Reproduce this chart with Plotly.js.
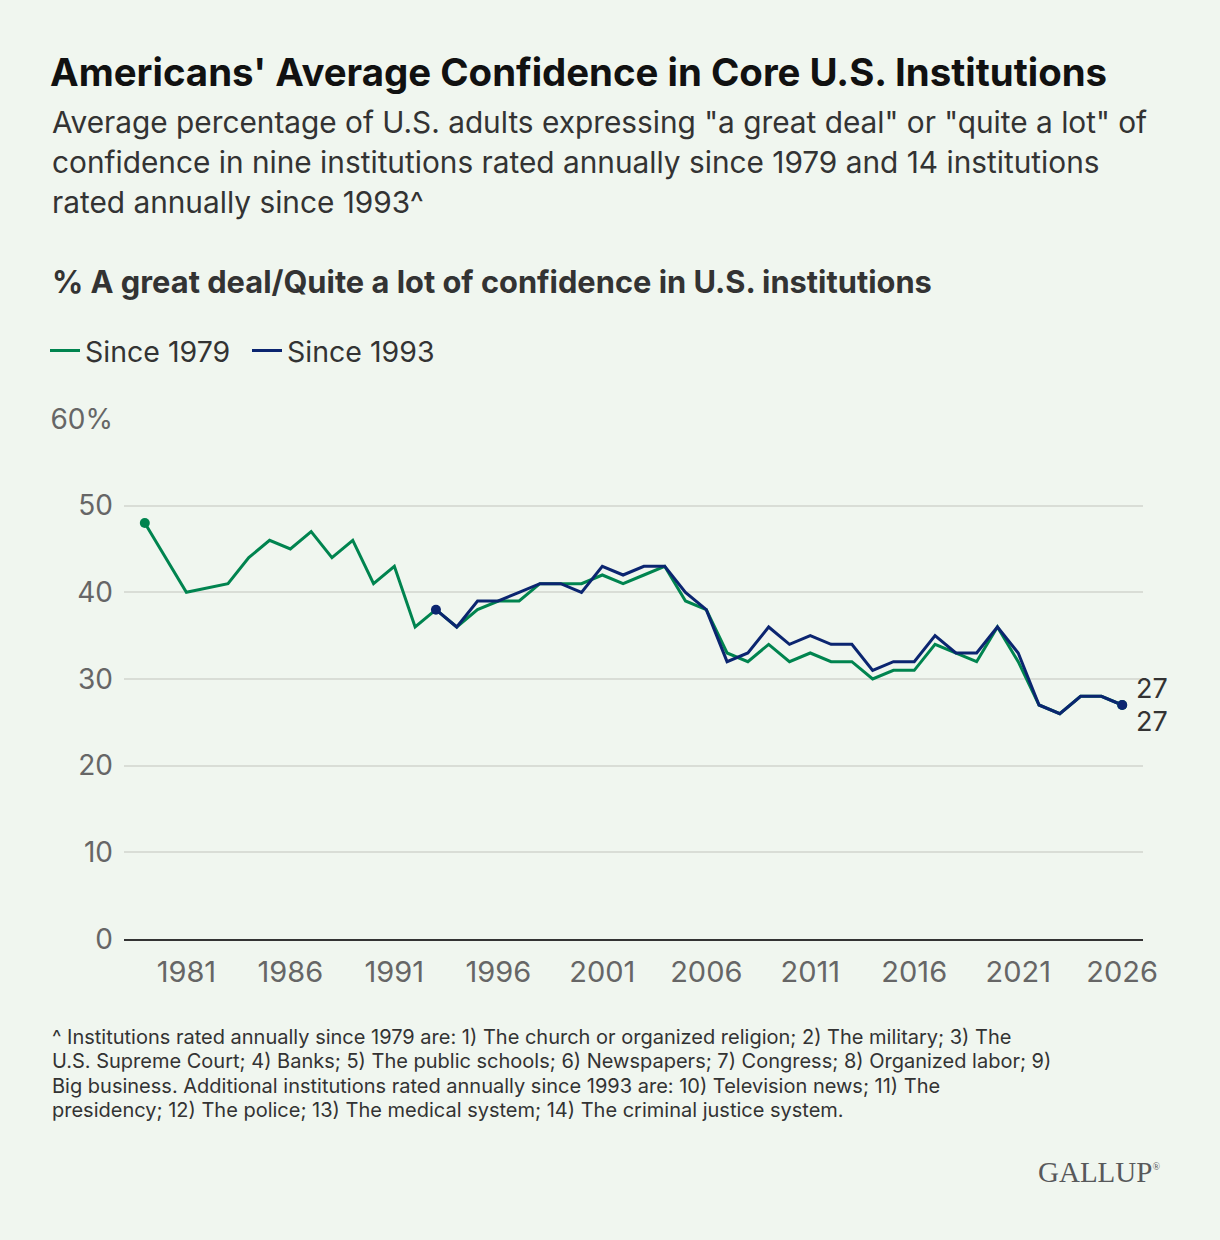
<!DOCTYPE html>
<html>
<head>
<meta charset="utf-8">
<script src="https://cdn.plot.ly/plotly-3.0.1.min.js"></script>
<style>
  html, body { margin: 0; padding: 0; background: #f0f6ef; }
  #chart { width: 1220px; height: 1240px; }
</style>
</head>
<body>
<div id="chart"></div>
<script>
// Daten: Durchschnittliches Vertrauen (%)
const years1979 = [1979, 1981, 1983, 1984, 1985, 1986, 1987, 1988, 1989, 1990,
  1991, 1992, 1993, 1994, 1995, 1996, 1997, 1998, 1999, 2000,
  2001, 2002, 2003, 2004, 2005, 2006, 2007, 2008, 2009, 2010,
  2011, 2012, 2013, 2014, 2015, 2016, 2017, 2018, 2019, 2020,
  2021, 2022, 2023, 2024, 2025, 2026];
const since1979 = [48, 40, 41, 44, 46, 45, 47, 44, 46, 41,
  43, 36, 38, 36, 38, 39, 39, 41, 41, 41,
  42, 41, 42, 43, 39, 38, 33, 32, 34, 32,
  33, 32, 32, 30, 31, 31, 34, 33, 32, 36,
  32, 27, 26, 28, 28, 27];

const years1993 = [1993, 1994, 1995, 1996, 1997, 1998, 1999, 2000,
  2001, 2002, 2003, 2004, 2005, 2006, 2007, 2008, 2009, 2010,
  2011, 2012, 2013, 2014, 2015, 2016, 2017, 2018, 2019, 2020,
  2021, 2022, 2023, 2024, 2025, 2026];
const since1993 = [38, 36, 39, 39, 40, 41, 41, 40,
  43, 42, 43, 43, 40, 38, 32, 33, 36, 34,
  35, 34, 34, 31, 32, 32, 35, 33, 33, 36,
  33, 27, 26, 28, 28, 27];

const yTickVals = [0, 10, 20, 30, 40, 50, 60];
const yTickText = ['0', '10', '20', '30', '40', '50', '60%'];

const seriesNames = ['Since 1979', 'Since 1993'];

const footnoteLines = [
  '^ Institutions rated annually since 1979 are: 1) The church or organized religion; 2) The military; 3) The',
  'U.S. Supreme Court; 4) Banks; 5) The public schools; 6) Newspapers; 7) Congress; 8) Organized labor; 9)',
  'Big business. Additional institutions rated annually since 1993 are: 10) Television news; 11) The',
  'presidency; 12) The police; 13) The medical system; 14) The criminal justice system.'
];
const subtitleLines = [
  'Average percentage of U.S. adults expressing "a great deal" or "quite a lot" of',
  'confidence in nine institutions rated annually since 1979 and 14 institutions',
  'rated annually since 1993^'
];

// Farben / Layout
const GREEN = '#00844f';
const NAVY = '#0b2570';
const FONT = 'Inter, "Noto Sans", Arial, sans-serif';

const W = 1220, H = 1240;
const plotTop = 419, plotBottom = 939, plotLeft = 124, plotRight = 1143;

// Pixel -> Paper-Koordinaten
function py(p) { return (plotBottom - p) / (plotBottom - plotTop); }
function px(p) { return (p - plotLeft) / (plotRight - plotLeft); }

function textAnn(text, x, y, size, color, extra) {
  return Object.assign({
    text: text,
    xref: 'paper', yref: 'paper',
    x: px(x), y: py(y),
    xanchor: 'left', yanchor: 'middle',
    showarrow: false,
    align: 'left',
    font: { family: FONT, size: size, color: color }
  }, extra || {});
}

const last79 = since1979.length - 1;
const last93 = since1993.length - 1;

const traces = [
  {
    x: years1979, y: since1979,
    mode: 'lines', name: seriesNames[0],
    line: { color: GREEN, width: 3 },
    hoverinfo: 'skip'
  },
  {
    x: years1993, y: since1993,
    mode: 'lines', name: seriesNames[1],
    line: { color: NAVY, width: 3 },
    hoverinfo: 'skip'
  },
  // Endpunkte
  {
    x: [years1979[0], years1979[last79]], y: [since1979[0], since1979[last79]],
    mode: 'markers', showlegend: false,
    marker: { color: GREEN, size: 10 }, hoverinfo: 'skip'
  },
  {
    x: [years1993[0], years1993[last93]], y: [since1993[0], since1993[last93]],
    mode: 'markers', showlegend: false,
    marker: { color: NAVY, size: 10 }, hoverinfo: 'skip'
  }
];

const annotations = [];
subtitleLines.forEach((t, i) => annotations.push(textAnn(t, 50, 122 + i * 40, 29.8, '#333333')));
annotations.push(textAnn('<b>% A great deal/Quite a lot of confidence in U.S. institutions</b>',
  50, 281, 30.8, '#333333'));
footnoteLines.forEach((t, i) => annotations.push(textAnn(t, 50, 1037 + i * 24.4, 20, '#333333')));
annotations.push(textAnn('GALLUP<sup><span style="font-size:10px">®</span></sup>', 1036, 1172, 29, '#58595b',
  { font: { family: '"Liberation Serif", "DejaVu Serif", serif', size: 29, color: '#58595b' } }));

// Endwerte
annotations.push({
  x: years1993[last93], y: since1993[last93], xref: 'x', yref: 'y',
  text: String(since1993[last93]), showarrow: false,
  xanchor: 'left', yanchor: 'middle', xshift: 12, yshift: 17,
  font: { family: FONT, size: 27, color: '#333333' }
});
annotations.push({
  x: years1979[last79], y: since1979[last79], xref: 'x', yref: 'y',
  text: String(since1979[last79]), showarrow: false,
  xanchor: 'left', yanchor: 'middle', xshift: 12, yshift: -16,
  font: { family: FONT, size: 27, color: '#333333' }
});

const layout = {
  width: W, height: H,
  paper_bgcolor: '#f0f6ef',
  plot_bgcolor: '#f0f6ef',
  margin: { l: plotLeft, r: W - plotRight, t: plotTop, b: H - plotBottom, pad: 0 },
  font: { family: FONT, color: '#333333' },
  title: {
    text: "<b>Americans' Average Confidence in Core U.S. Institutions</b>",
    font: { family: FONT, size: 38.4, color: '#111111' },
    x: 50 / W, xanchor: 'left', xref: 'container',
    y: 1 - 73 / H, yanchor: 'middle', yref: 'container'
  },
  showlegend: true,
  legend: {
    orientation: 'h',
    x: px(45), xanchor: 'left',
    y: py(351), yanchor: 'middle',
    font: { family: FONT, size: 28.5, color: '#333333' },
    itemwidth: 30,
    entrywidth: 157, entrywidthmode: 'pixels',
    bgcolor: 'rgba(0,0,0,0)'
  },
  xaxis: {
    range: [1978, 2027],
    tickmode: 'linear', tick0: 1981, dtick: 5,
    showgrid: false, zeroline: false,
    showline: true, linecolor: '#333333', linewidth: 2,
    ticks: '', ticklabelstandoff: 6,
    tickfont: { family: FONT, size: 29, color: '#666666' },
    fixedrange: true
  },
  yaxis: {
    range: [0, 60],
    tickmode: 'array', tickvals: yTickVals, ticktext: yTickText,
    showgrid: true, gridcolor: '#d9ddd6', gridwidth: 2,
    zeroline: false, showline: false,
    ticks: '', ticklabelstandoff: 10,
    tickfont: { family: FONT, size: 28, color: '#666666' },
    fixedrange: true
  },
  annotations: annotations
};

Plotly.newPlot('chart', traces, layout, { displayModeBar: false, staticPlot: true });
</script>
</body>
</html>
